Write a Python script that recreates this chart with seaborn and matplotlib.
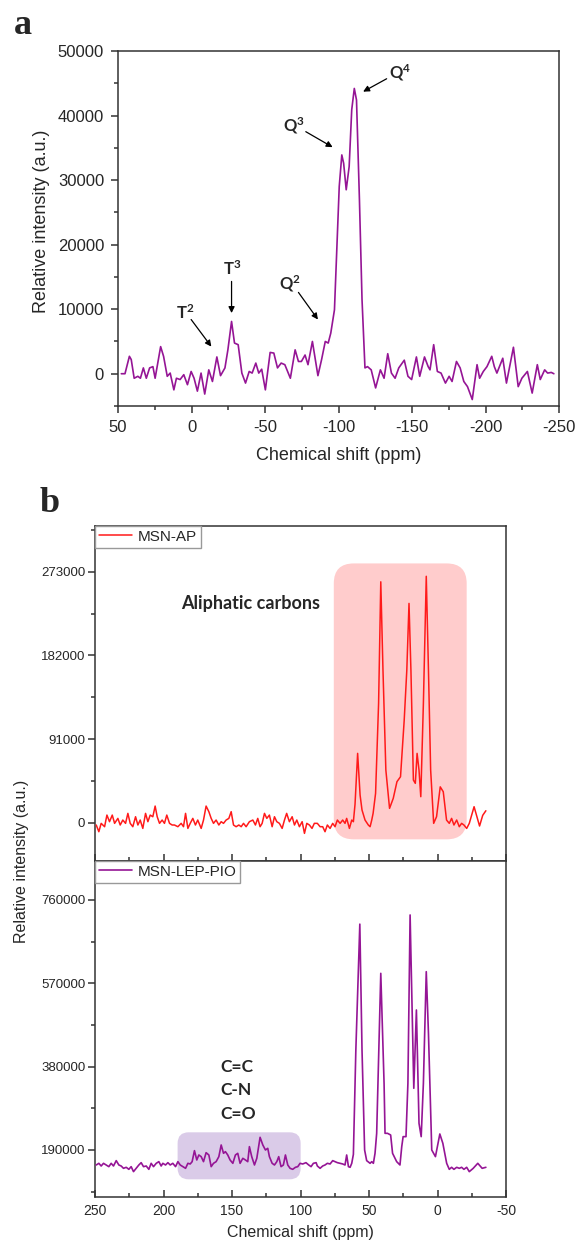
import numpy as np
import pandas as pd
import matplotlib.pyplot as plt
import seaborn as sns
from matplotlib.ticker import MultipleLocator
from matplotlib.patches import FancyBboxPatch
from matplotlib.transforms import IdentityTransform

sns.set_theme(style="white")
plt.rcParams['font.family'] = ['Liberation Sans', 'DejaVu Sans']
plt.rcParams['axes.unicode_minus'] = False
plt.rcParams['mathtext.fontset'] = 'custom'
plt.rcParams['mathtext.bf'] = 'Lato:bold'
plt.rcParams['mathtext.rm'] = 'Lato:bold'

# ─────────────────────────────────────────────
# DATA
# ─────────────────────────────────────────────
# (a) 29Si spectrum
si_shift = [47.75, 45.25, 42.25, 41, 39, 36.5, 34.75, 32.75, 30.75, 28.5, 26.25, 24.75,
            21, 19, 16.5, 14.5, 12, 10.25, 7.75, 5.25, 2.75, 0.25, -1.75, -4, -6.5, -9,
            -11.75, -14.25, -17.25, -19.75, -22.75, -24.75, -27.25, -29.25, -31.75, -34.25,
            -36.75, -39.25, -41.25, -43.75, -45.75, -47.75, -50.25, -53.5, -56, -58.5, -61,
            -63.5, -67.25, -70.5, -72.75, -74.75, -77.25, -79.25, -82.25, -86, -88.5, -91,
            -93, -94.75, -97.25, -98.75, -100.5, -102.25, -103.5, -105.25, -107.25, -109,
            -110.75, -112.25, -114.25, -116, -118, -119.75, -122.25, -125.25, -128.5, -131,
            -133.5, -136, -138.5, -141, -144.75, -147.25, -149.75, -153, -155.25, -158.5,
            -161, -162.25, -164.75, -167.25, -169.75, -172.75, -175.25, -177.25, -180.25,
            -182.75, -185.25, -187.75, -191, -194.25, -196, -198.5, -201, -204.25, -206,
            -207.75, -211.75, -214.25, -219, -222.25, -224.75, -228.5, -231.75, -235.25,
            -237.25, -240.25, -242.25, -244.75, -246.5]
si_int = [0, 0, 2700, 2200, -700, -400, -700, 900, -700, 900, 1100, -700,
          4200, 2700, -400, 100, -2500, -700, -900, -150, -1700, 350, -700, -2700, 100, -3150,
          600, -1200, 2600, -300, 900, 3700, 8100, 4750, 4500, 100,
          -1450, 350, 100, 1650, 100, 700, -2500, 3300, 3200, 900, 1650,
          1400, -700, 3700, 1900, 1900, 2900, 1400, 5000, -300, 2200, 5000,
          4750, 6300, 9900, 18700, 29000, 33900, 32600, 28500, 32100, 40900,
          44200, 42400, 26900, 11500, 900, 1100, 600, -2200, 600, -700,
          3100, 100, -700, 900, 2100, -400, -900, 2600, -400, 2600,
          1100, 600, 4500, 350, 100, -1450, -400, -1200, 1900,
          900, -1200, -2000, -4000, 1400, -700, 350, 1100, 2700, 1100,
          100, 2400, -1450, 4100, -2000, -700, 350, -3000, 1400,
          -900, 600, 100, 200, 0]

# (b) 13C spectra
ap_shift = [249.1, 247.2, 245.5, 243.0, 241.3, 239.4, 237.4, 235.7, 233.3, 231.6, 229.7, 227.7,
            226.0, 224.3, 222.4, 220.4, 218.7, 217.0, 215.1, 213.1, 211.4, 209.7, 207.8, 206.1,
            204.6, 202.9, 201.0, 199.3, 197.6, 195.6, 193.7, 192.0, 189.5, 187.1, 185.4, 183.9,
            182.2, 180.5, 178.6, 176.7, 175.0, 172.5, 170.8, 168.9, 166.9, 165.2, 163.5, 161.6,
            159.6, 157.9, 156.2, 154.3, 152.3, 150.6, 148.9, 147.0, 145.0, 143.3, 141.6, 139.7,
            137.3, 134.8, 132.9, 131.2, 129.5, 128.0, 126.3, 124.6, 122.7, 120.7, 119.0, 117.3,
            115.4, 113.4, 111.7, 110.1, 108.1, 106.1, 104.4, 102.7, 100.8, 98.8, 97.1, 95.4,
            93.5, 91.6, 89.9, 87.7, 85.7, 83.8, 82.1, 80.4, 78.4, 76.5, 74.8, 73.1, 71.1, 69.2,
            67.5, 66.3, 64.3, 62.6, 61.4, 60.2, 58.3, 56.5, 55.1, 52.9, 50.5, 49.2, 48.0, 47.0,
            45.2, 43.0, 41.4, 39.8, 37.7, 35.0, 32.3, 29.6, 27.0, 24.3, 22.4, 20.8, 19.4, 17.6,
            16.2, 14.9, 13.5, 12.2, 10.3, 8.2, 6.6, 5.0, 2.8, 0.7, -2.0, -4.2, -6.6, -8.6,
            -10.3, -12.0, -14.0, -15.9, -17.6, -19.3, -21.3, -23.2, -26.7, -28.5, -30.7, -33.0,
            -35.3]
ap_int = [-2500, -9800, -700, -4350, 8300, 1100, 8300, -700, 4700, -2500, 2900, -700,
          10150, -700, -4350, 6500, -2500, 2900, -6200, 10150, 1100, 8300, 6500, 18100,
          6500, -700, 2900, -700, 8300, -700, -2500, -2500, -4350, -700, -4350, 10150,
          -6200, -700, 4700, -2500, 2900, -6200, 2900, 18100, 12000, 4700, -700, 2900,
          -2500, 1100, -700, 2900, 4700, 12000, -2500, -4350, -2500, -4350, -700, -4350,
          1100, 2900, -2500, 4700, -4350, -700, 10150, 4700, 8300, -4350, 6500, 1100,
          -700, -6200, 2900, 10150, 1100, 6500, -2500, 2900, -4350, 1100, -11600, -700,
          -2500, -6200, -700, -700, -4350, -4350, -9800, -2500, -6200, -700, -4350, 2900, -700, 2900,
          -700, 4700, -6200, 2900, 1100, 20000, 75400, 30000, 13800, 2900, -2500, -4350, 2900, 10200,
          31900, 129800, 262000, 166000, 57300, 15600, 26500, 44600, 50000, 111600, 166000, 238500, 166000, 46400,
          42800, 75400, 57300, 28300, 129800, 268000, 166000, 57300, -700, 6500, 39000, 33700, 2900, -700,
          4700, -2500, 2900, -4350, -700, -2500, -6200, -700, 17400, 8000, -3600, 8000,
          13000]

lep_shift = [249.1, 247.2, 245.5, 243.8, 241.8, 239.9, 238.2, 236.5, 234.5, 232.6, 230.9, 229.2,
             227.2, 225.3, 223.6, 221.9, 219.9, 218.0, 216.3, 214.6, 212.6, 210.7, 209.0, 207.3,
             205.3, 203.4, 201.7, 200.5, 198.5, 196.8, 195.1, 193.2, 191.2, 189.5, 187.8, 185.9,
             183.9, 182.2, 180.5, 179.1, 177.4, 175.7, 174.2, 172.5, 170.8, 168.9, 166.9, 165.2,
             163.5, 161.6, 159.6, 157.9, 156.2, 154.8, 153.1, 151.4, 149.4, 147.5, 145.8, 144.1,
             142.1, 140.2, 138.5, 137.3, 135.6, 133.6, 131.9, 129.5, 127.5, 125.6, 123.9, 122.7,
             120.7, 119.0, 117.3, 115.9, 114.2, 112.5, 111.0, 109.3, 107.6, 105.7, 103.7, 102.0,
             100.3, 98.4, 96.0, 94.0, 92.3, 90.6, 88.6, 87.7, 85.7, 83.8, 82.1, 80.4, 78.4, 76.5,
             74.8, 73.1, 71.1, 69.2, 67.5, 66.3, 65.0, 63.8, 62.6, 61.4, 59.6, 56.7, 55.1, 53.2,
             51.7, 49.2, 48.0, 46.8, 45.6, 44.4, 41.4, 39.0, 38.3, 36.5, 34.2, 32.8, 29.8, 27.4,
             26.1, 25.1, 23.0, 21.6, 20.0, 18.4, 17.3, 15.4, 13.5, 11.9, 10.3, 8.2, 6.6, 4.2,
             1.5, -1.7, -3.9, -6.7, -8.6, -10.3, -12.0, -14.0, -15.9, -17.6, -19.3, -21.3, -23.2,
             -26.0, -29.4, -32.6, -35.3]
lep_int = [155800, 159600, 153500, 159600, 155800, 152000, 159600, 153500, 165700, 155800, 153500, 148200,
           150500, 145900, 152000, 140600, 148200, 155800, 161100, 152000, 153500, 145900, 159600, 152000,
           159600, 163400, 153500, 159600, 155800, 161100, 155800, 159600, 152000, 163400, 155800, 152000,
           148200, 159600, 158100, 163400, 188500, 167200, 178600, 174800, 163400, 183900, 178600, 152000,
           159600, 163400, 174800, 201400, 182400, 186200, 178600, 167200, 159600, 178600, 182400, 159600,
           171000, 167200, 163400, 197600, 174800, 155800, 171000, 218900, 201400, 190000, 193800, 174800,
           159600, 155800, 163400, 174800, 152000, 155800, 178600, 155800, 148200, 145900, 150500, 152000,
           159600, 158100, 161100, 155800, 152000, 159600, 161100, 153500, 148200, 153500, 155800, 159600, 158100, 165700,
           163400, 161100, 159600, 158100, 155800, 178600, 152000, 150500, 159600, 180000, 418000, 705000, 418000, 190000,
           165700, 159600, 163400, 159600, 182400, 228000, 592800, 342000, 228000, 228000, 224200, 182400, 163400, 155800,
           197600, 220400, 220400, 342000, 725800, 494000, 330600, 509200, 250800, 220400, 342000, 596600, 456000, 190000,
           174800, 226500, 205200, 159600, 145900, 150500, 145900, 150500, 148200, 150500, 145900, 150500, 140600,
           148000, 159600, 148200, 150500]

peak_labels = [r'$\mathbf{T^{2}}$', r'$\mathbf{T^{3}}$', r'$\mathbf{Q^{2}}$',
               r'$\mathbf{Q^{3}}$', r'$\mathbf{Q^{4}}$']
label_xy = [(4, 9400), (-27.75, 16300), (-66.75, 14000), (-69.75, 38500), (-141.75, 46600)]
arrow_tail = [(0.25, 8400), (-27.25, 14300), (-72.75, 12600), (-77.75, 37500), (-132.75, 45700)]
arrow_head = [(-13.5, 4200), (-27.25, 9400), (-86, 8400), (-96, 35100), (-116.75, 43700)]

aliph_name = 'Aliphatic carbons'
unsat_names = ['C=C', 'C-N', 'C=O']
unsat_y = [380000, 326800, 272000]
aliph_box = (75.7, -21.3, -18100, 282000)      # ppm from, ppm to, int low, int high
unsat_box = (189.7, 99.9, 123100, 230300)

df_a = pd.DataFrame({'shift': si_shift, 'intensity': si_int})
df_ap = pd.DataFrame({'shift': ap_shift, 'intensity': ap_int})
df_lep = pd.DataFrame({'shift': lep_shift, 'intensity': lep_int})

PURPLE = '#951595'
RED = '#ff1a1a'
SPINE = '#333333'

W, H = 576, 1241
fig = plt.figure(figsize=(W / 100, H / 100), dpi=100)
ax_a = fig.add_axes([118 / W, 1 - 406 / H, 441 / W, 355 / H])
ax_b1 = fig.add_axes([95 / W, 1 - 861 / H, 411 / W, 335 / H])
ax_b2 = fig.add_axes([95 / W, 1 - 1197 / H, 411 / W, 336 / H])


def style_frame(ax):
    for s in ax.spines.values():
        s.set_visible(True)
        s.set_color(SPINE)
        s.set_linewidth(1.1)


def rounded_box(ax, box, color, radius):
    x_lo, x_hi, y_lo, y_hi = box
    pts = ax.transData.transform([(x_lo, y_lo), (x_hi, y_hi)])
    x0, y0 = pts.min(axis=0)
    x1, y1 = pts.max(axis=0)
    patch = FancyBboxPatch((x0, y0), x1 - x0, y1 - y0,
                           boxstyle=f"round,pad=0,rounding_size={radius}",
                           transform=IdentityTransform(), fc=color, ec='none', zorder=0)
    ax.add_artist(patch)


# ─────────────────────────────────────────────
# PANEL a
# ─────────────────────────────────────────────
sns.lineplot(data=df_a, x='shift', y='intensity', ax=ax_a, color=PURPLE, lw=1.2,
             estimator=None, sort=True)
ax_a.set_xlim(50, -250)
ax_a.set_ylim(-5000, 50000)
ax_a.xaxis.set_major_locator(MultipleLocator(50))
ax_a.xaxis.set_minor_locator(MultipleLocator(25))
ax_a.yaxis.set_major_locator(MultipleLocator(10000))
ax_a.yaxis.set_minor_locator(MultipleLocator(5000))
style_frame(ax_a)
ax_a.tick_params(which='both', direction='out', bottom=True, left=True, color=SPINE, width=1.1)
ax_a.tick_params(which='major', length=5, labelsize=12, pad=5)
ax_a.tick_params(which='minor', length=3)
ax_a.set_xlabel('Chemical shift (ppm)', fontsize=13)
ax_a.set_ylabel('Relative intensity (a.u.)', fontsize=13)
ax_a.xaxis.set_label_coords(0.5, -0.115)
ax_a.yaxis.set_label_coords(-0.154, 0.52)

for lab, (tx, ty), tail, head in zip(peak_labels, label_xy, arrow_tail, arrow_head):
    ax_a.text(tx, ty, lab, ha='center', va='center', fontsize=12)
    ax_a.annotate('', xy=head, xytext=tail,
                  arrowprops=dict(arrowstyle='-|>', color='black', lw=0.9,
                                  mutation_scale=9, shrinkA=0, shrinkB=0))

# ─────────────────────────────────────────────
# PANEL b
# ─────────────────────────────────────────────
sns.lineplot(data=df_ap, x='shift', y='intensity', ax=ax_b1, color=RED, lw=1.1,
             estimator=None, sort=True, label='MSN-AP', zorder=3)
sns.lineplot(data=df_lep, x='shift', y='intensity', ax=ax_b2, color=PURPLE, lw=1.2,
             estimator=None, sort=True, label='MSN-LEP-PIO', zorder=3)

ax_b1.set_xlim(250, -50)
ax_b2.set_xlim(250, -50)
ax_b1.set_ylim(-41650, 322700)
ax_b2.set_ylim(82800, 848900)
ax_b1.set_yticks([0, 91000, 182000, 273000])
ax_b1.yaxis.set_minor_locator(MultipleLocator(45500))
ax_b2.set_yticks([190000, 380000, 570000, 760000])
ax_b2.yaxis.set_minor_locator(MultipleLocator(95000))

for ax in (ax_b1, ax_b2):
    style_frame(ax)
    ax.xaxis.set_major_locator(MultipleLocator(50))
    ax.xaxis.set_minor_locator(MultipleLocator(25))
    ax.tick_params(axis='x', which='both', direction='in', bottom=True, color=SPINE, width=1.1)
    ax.tick_params(axis='y', which='both', direction='out', left=True, color=SPINE, width=1.1)
    ax.tick_params(which='major', length=5)
    ax.tick_params(which='minor', length=3)
    ax.tick_params(axis='y', labelsize=9.5, pad=2)
    ax.tick_params(axis='x', labelsize=10, pad=5)
    ax.set_ylabel('')
    ax.legend(loc='upper left', bbox_to_anchor=(0, 1), borderaxespad=0, borderpad=0.25,
              handlelength=2.2, handletextpad=0.35, fancybox=False, framealpha=1,
              edgecolor='#999999', fontsize=11)

ax_b1.tick_params(axis='x', labelbottom=False)
ax_b1.set_xlabel('')
ax_b2.set_xlabel('Chemical shift (ppm)', fontsize=11.5)
ax_b2.xaxis.set_label_coords(0.5, -0.083)
fig.text(22 / W, 1 - 861 / H, 'Relative intensity (a.u.)', rotation=90, ha='center',
         va='center', fontsize=11.5)

rounded_box(ax_b1, aliph_box, '#ffcccc', 20)
rounded_box(ax_b2, unsat_box, '#dacbe8', 11)

ax_b1.text(136.3, 238600, aliph_name, ha='center', va='center', fontsize=13,
           fontweight='bold', family=['Lato', 'DejaVu Sans'])
for name, yy in zip(unsat_names, unsat_y):
    ax_b2.text(158.3, yy, name, ha='left', va='center', fontsize=12.5,
               fontweight='bold', family=['Lato', 'DejaVu Sans'])

fig.text(23 / W, 1 - 25 / H, 'a', family='Liberation Serif', fontweight='bold',
         fontsize=26, ha='center', va='center')
fig.text(50 / W, 1 - 503 / H, 'b', family='Liberation Serif', fontweight='bold',
         fontsize=26, ha='center', va='center')

fig.savefig('out.png', dpi=100)
